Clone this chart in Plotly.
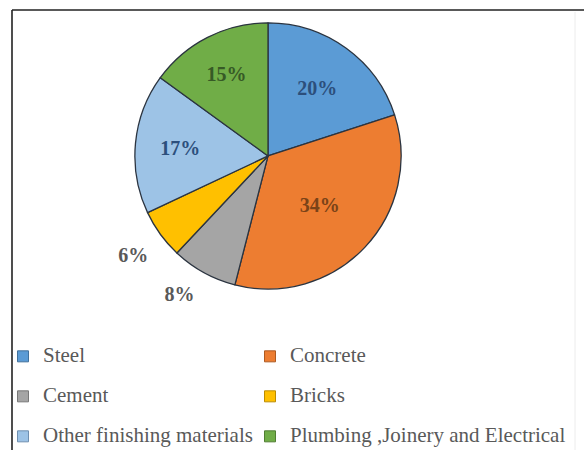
import plotly.graph_objects as go

categories = ["Steel", "Concrete", "Cement", "Bricks",
              "Other finishing materials", "Plumbing ,Joinery and Electrical"]
shares = [20, 34, 8, 6, 17, 15]
slice_colors = ["#5b9bd5", "#ed7d31", "#a5a5a5", "#ffc000", "#9dc3e6", "#70ad47"]
symbol_edges = ["#41719c", "#ae5a21", "#787878", "#bc8c00", "#6f8fb0", "#507e32"]
label_colors = ["#2c4f7c", "#7a4318", "#404040", "#404040", "#2c4f7c", "#375a26"]
label_positions = ["inside", "inside", "outside", "outside", "inside", "inside"]
legend_columns = ["legend", "legend2", "legend", "legend2", "legend", "legend2"]

W, H = 584, 453
cx, cy, r = 268, 157, 134

# outside labels sit a little further from the pie, as in the original
spacer_small = '<span style="font-size:8px">\u00a0</span><br>'
spacer_full = '\u00a0<br>'
label_templates = ["%{percent}", "%{percent}", spacer_small + "%{percent}",
                   spacer_full + "%{percent}", "%{percent}", "%{percent}"]

fig = go.Figure()
fig.add_trace(go.Pie(
    labels=categories,
    values=shares,
    sort=False,
    direction="clockwise",
    rotation=0,
    marker=dict(colors=slice_colors, line=dict(color="#2b3440", width=1.3)),
    texttemplate=label_templates,
    textposition=label_positions,
    insidetextorientation="horizontal",
    insidetextfont=dict(family="Liberation Serif", size=20, color=label_colors, weight="bold"),
    outsidetextfont=dict(family="Liberation Serif", size=20, color="#595959", weight="bold"),
    domain=dict(x=[(cx - r) / W, (cx + r) / W], y=[(H - cy - r) / H, (H - cy + r) / H]),
    hoverinfo="label+percent",
    showlegend=False,
))

# legend entries (two columns, one legend per column)
for name, col, edge, leg in zip(categories, slice_colors, symbol_edges, legend_columns):
    fig.add_trace(go.Scatter(
        x=[None], y=[None], mode="markers",
        name='<span style="font-size:21px">%s</span>' % name,
        marker=dict(symbol="square", size=11, color=col, line=dict(color=edge, width=1)),
        legend=leg, legendgroup=name, showlegend=True, hoverinfo="skip",
    ))

legend_font = dict(family="Liberation Serif", size=14, color="#595959")
fig.update_layout(
    width=W, height=H,
    margin=dict(l=0, r=0, t=0, b=0),
    paper_bgcolor="white",
    plot_bgcolor="white",
    xaxis=dict(visible=False),
    yaxis=dict(visible=False),
    legend=dict(x=3 / W, xanchor="left", y=1 - 343 / H, yanchor="top",
                font=legend_font, tracegroupgap=18.8, bgcolor="rgba(0,0,0,0)"),
    legend2=dict(x=250 / W, xanchor="left", y=1 - 343 / H, yanchor="top",
                 font=legend_font, tracegroupgap=18.8, bgcolor="rgba(0,0,0,0)"),
    shapes=[
        dict(type="line", xref="paper", yref="paper", x0=12 / W, x1=12 / W, y0=0, y1=1 - 10 / H,
             line=dict(color="#222222", width=1.6)),
        dict(type="line", xref="paper", yref="paper", x0=12 / W, x1=1, y0=1 - 10 / H, y1=1 - 10 / H,
             line=dict(color="#222222", width=1.6)),
        dict(type="line", xref="paper", yref="paper", x0=575 / W, x1=575 / W, y0=0, y1=1 - 12 / H,
             line=dict(color="#ececec", width=1)),
    ],
)

fig.write_html("out.html")
